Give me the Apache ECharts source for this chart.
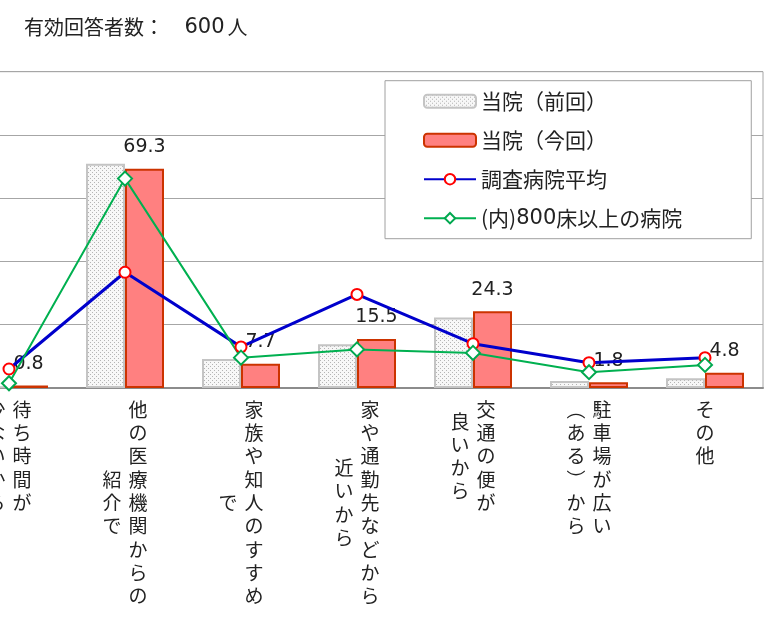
<!DOCTYPE html>
<html><head><meta charset="utf-8">
<script src="https://cdn.jsdelivr.net/npm/echarts@6/dist/echarts.min.js"></script>
<style>html,body{margin:0;padding:0;background:#fff}#c{width:778px;height:622px}</style>
</head><body><div id="c"></div>
<script>
// ---- data ----
var categories = ['待ち時間が少ないから','他の医療機関からの紹介で','家族や知人のすすめで','家や通勤先などから近いから','交通の便が良いから','駐車場が広い（ある）から','その他'];
var colRight = ['待ち時間が','他の医療機関からの','家族や知人のすすめ','家や通勤先などから','交通の便が','駐車場が広い','その他'];
var colLeft  = ['少ないから','紹介で','で','近いから','良いから','（ある）から',''];
var seriesNames = ['当院（前回）','当院（今回）','調査病院平均','(内)800床以上の病院'];
var prevValues = [0.5, 70.9, 9.2, 13.8, 22.3, 2.2, 3.1];
var currValues = [0.8, 69.3, 7.7, 15.5, 24.3, 1.8, 4.8];
var avgValues  = [6.0, 36.6, 13.0, 29.6, 14.0, 8.0, 9.6];
var bigValues  = [1.5, 66.2, 9.6, 12.2, 11.1, 5.0, 7.3];
var titleLabel = '有効回答者数：';
var titleCount = '600';
var titleUnit = '人';

// ---- styling ----
var FONT = '"Noto Sans CJK JP", "Noto Sans", sans-serif';
var NUMFONT = '"DejaVu Sans", "Noto Sans CJK JP", sans-serif';
var LH = 23.3;
function vertForm(s){ return s.replace(/（/g,'︵').replace(/）/g,'︶'); }
function pattern(){
  var cv = document.createElement('canvas'); cv.width = 4; cv.height = 4;
  var g = cv.getContext('2d');
  g.fillStyle = '#f7f7f7'; g.fillRect(0,0,4,4);
  g.fillStyle = '#b4b4b4'; g.fillRect(0,0,1,1); g.fillRect(2,2,1,1);
  return {image: cv, repeat: 'repeat'};
}
var richBase = {fontSize: 19, fontFamily: FONT, color: '#222', lineHeight: LH};
function rs(extra){ var o = {}; for (var k in richBase) o[k] = richBase[k]; for (var k2 in extra) o[k2] = extra[k2]; return o; }
var richR = {c: rs({}), r: rs({padding: [0,0,0,26]})};
var richL = {l: rs({padding: [0,26,0,0]})};
for (var i = 1; i <= 20; i++) richL['p' + i] = {fontSize: 2, lineHeight: i * LH / 2, fontFamily: FONT};

function fmtRight(v, idx){
  var style = colLeft[idx].length ? 'r' : 'c';
  return vertForm(colRight[idx]).split('').map(function(ch){ return '{' + style + '|' + ch + '}'; }).join('\n');
}
function fmtLeft(v, idx){
  var s = vertForm(colLeft[idx]);
  if (!s.length) return '';
  var off = Math.round((colRight[idx].length - s.length));
  var pre = off > 0 ? '{p' + off + '|\u3000}\n' : '';
  return pre + s.split('').map(function(ch){ return '{l|' + ch + '}'; }).join('\n');
}
function fmtLegend(name){
  var m = name.match(/^(\(内\))(\d+)(.*)$/);
  if (m) return '{t|' + m[1] + '}{n|' + m[2] + '}{t|' + m[3] + '}';
  return '{t|' + name + '}';
}

var chart = echarts.init(document.getElementById('c'), null, {renderer: 'canvas'});
chart.setOption({
  animation: false,
  backgroundColor: '#fff',
  textStyle: {fontFamily: FONT},
  title: {
    text: '{t|' + titleLabel + '}{s| }{n|' + titleCount + '}{t|' + titleUnit + '}',
    left: 24, top: 17, padding: 0,
    textStyle: {
      fontSize: 20, fontWeight: 'normal', color: '#222', fontFamily: FONT,
      rich: {
        t: {fontSize: 20, color: '#222', fontFamily: FONT},
        s: {fontSize: 20, color: '#222', fontFamily: FONT, padding: [0, 8, 0, 8]},
        n: {fontSize: 21, color: '#222', fontFamily: NUMFONT, padding: [0, 3, 0, 0]}
      }
    }
  },
  grid: {left: -49, right: 15, top: 71.7, bottom: 234, show: true, borderColor: '#a6a6a6', borderWidth: 1, containLabel: false, outerBoundsMode: 'none'},
  legend: {
    orient: 'vertical', left: 385, top: 80.7,
    padding: [10, 69, 10, 38], itemGap: 18, itemWidth: 52, itemHeight: 13,
    backgroundColor: '#fff', borderColor: '#a0a0a0', borderWidth: 1,
    formatter: fmtLegend,
    textStyle: {
      fontSize: 21, color: '#222', fontFamily: FONT,
      rich: {
        t: {fontSize: 21, color: '#222', fontFamily: FONT},
        n: {fontSize: 21, color: '#222', fontFamily: NUMFONT}
      }
    },
    data: seriesNames
  },
  xAxis: [{
    type: 'category', data: categories, position: 'bottom',
    axisLine: {show: true, lineStyle: {color: '#8c8c8c', width: 2}},
    axisTick: {show: false},
    axisLabel: {interval: 0, margin: 10, formatter: fmtRight, rich: richR, fontSize: 19, lineHeight: LH, color: '#222', fontFamily: FONT}
  }, {
    type: 'category', data: categories, position: 'bottom', gridIndex: 0,
    axisLine: {show: false}, axisTick: {show: false},
    axisLabel: {interval: 0, margin: 10, formatter: fmtLeft, rich: richL, fontSize: 19, lineHeight: LH, color: '#222', fontFamily: FONT}
  }],
  yAxis: {
    type: 'value', min: 0, max: 100, interval: 20,
    axisLabel: {show: false}, axisLine: {show: false}, axisTick: {show: false},
    splitLine: {show: true, lineStyle: {color: '#a6a6a6', width: 1}}
  },
  series: [{
    name: seriesNames[0], type: 'bar', data: prevValues, barWidth: 39, barGap: '0%',
    itemStyle: {color: pattern(), borderColor: '#c4c4c4', borderWidth: 2}
  }, {
    name: seriesNames[1], type: 'bar', data: currValues, barWidth: 39, barGap: '0%',
    itemStyle: {color: '#ff8080', borderColor: '#cc3300', borderWidth: 2},
    label: {show: true, position: 'top', distance: 12, fontSize: 19, color: '#222', fontFamily: NUMFONT, formatter: function(p){ return p.value.toFixed(1); }}
  }, {
    name: seriesNames[2], type: 'line', data: avgValues, symbol: 'circle', symbolSize: 11,
    lineStyle: {color: '#0000cc', width: 3},
    itemStyle: {color: '#fff', borderColor: '#ff0000', borderWidth: 2}
  }, {
    name: seriesNames[3], type: 'line', data: bigValues, symbol: 'diamond', symbolSize: 14,
    lineStyle: {color: '#00b050', width: 2},
    itemStyle: {color: '#fff', borderColor: '#00a84f', borderWidth: 2}
  }]
});
</script></body></html>
